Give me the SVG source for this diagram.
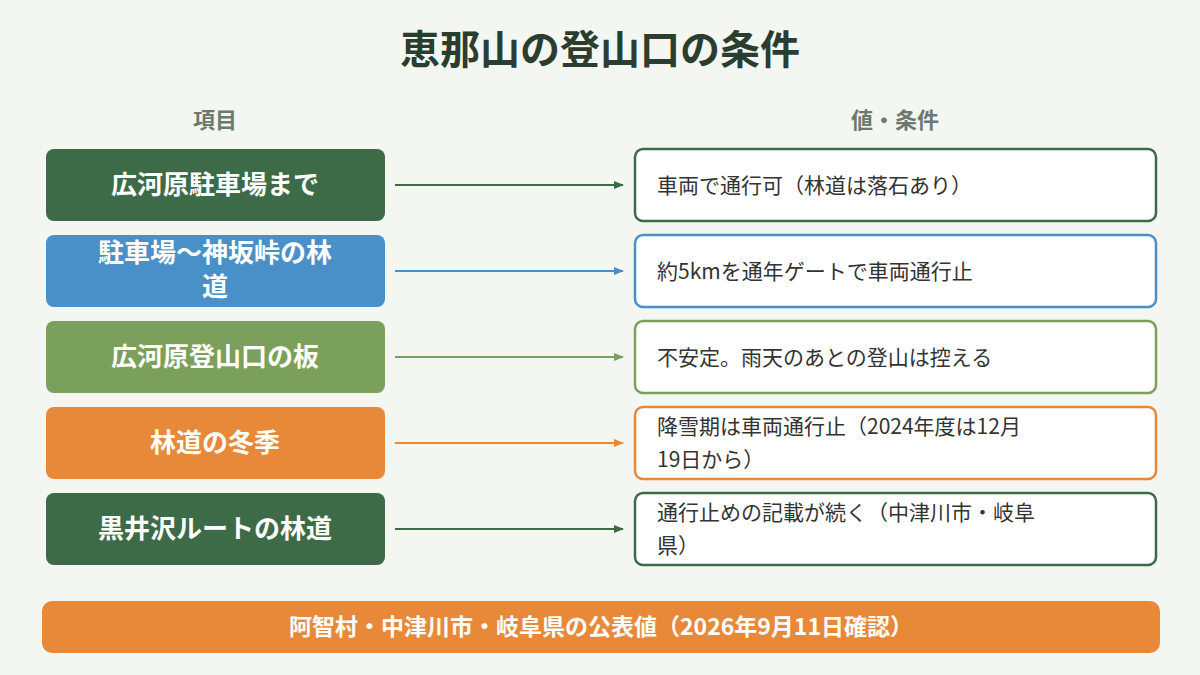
<svg xmlns="http://www.w3.org/2000/svg" width="1200" height="675" viewBox="0 0 1200 675">
<defs>
<style>
text{font-family:"Noto Sans CJK JP","Noto Sans",sans-serif}
.t{font-size:40px;font-weight:bold;fill:#2b3d2f}
.h{font-size:22px;font-weight:bold;fill:#6b7a6e}
.l{font-size:26px;font-weight:bold;fill:#fff}
.r{font-size:21px;fill:#333}
.rb{fill:#fff;stroke-width:2.5}
</style>
<marker id="a1" markerWidth="10" markerHeight="8" refX="9" refY="4" orient="auto" markerUnits="userSpaceOnUse"><path d="M0,0L10,4L0,8z" fill="#3d6b47"/></marker>
<marker id="a2" markerWidth="10" markerHeight="8" refX="9" refY="4" orient="auto" markerUnits="userSpaceOnUse"><path d="M0,0L10,4L0,8z" fill="#4a90c8"/></marker>
<marker id="a3" markerWidth="10" markerHeight="8" refX="9" refY="4" orient="auto" markerUnits="userSpaceOnUse"><path d="M0,0L10,4L0,8z" fill="#7ba05b"/></marker>
<marker id="a4" markerWidth="10" markerHeight="8" refX="9" refY="4" orient="auto" markerUnits="userSpaceOnUse"><path d="M0,0L10,4L0,8z" fill="#e8893a"/></marker>
</defs>
<rect width="1200" height="675" fill="#f4f6f1"/>
<text class="t" x="600" y="64" text-anchor="middle">恵那山の登山口の条件</text>
<text class="h" x="215" y="128" text-anchor="middle">項目</text>
<text class="h" x="895" y="128" text-anchor="middle">値・条件</text>
<g id="n1"><rect x="46" y="149" width="339" height="72" rx="8" fill="#3d6b47"/><text class="l" x="215" y="194" text-anchor="middle">広河原駐車場まで</text></g>
<g id="n2"><rect x="46" y="235" width="339" height="72" rx="8" fill="#4a90c8"/><text class="l" x="215" y="262" text-anchor="middle">駐車場～神坂峠の林</text><text class="l" x="215" y="296" text-anchor="middle">道</text></g>
<g id="n3"><rect x="46" y="321" width="339" height="72" rx="8" fill="#7ba05b"/><text class="l" x="215" y="366" text-anchor="middle">広河原登山口の板</text></g>
<g id="n4"><rect x="46" y="407" width="339" height="72" rx="8" fill="#e8893a"/><text class="l" x="215" y="452" text-anchor="middle">林道の冬季</text></g>
<g id="n5"><rect x="46" y="493" width="339" height="72" rx="8" fill="#3d6b47"/><text class="l" x="215" y="538" text-anchor="middle">黒井沢ルートの林道</text></g>
<g id="v1"><rect class="rb" x="635" y="149" width="521" height="72" rx="8" stroke="#3d6b47"/><text class="r" x="657" y="193">車両で通行可（林道は落石あり）</text></g>
<g id="v2"><rect class="rb" x="635" y="235" width="521" height="72" rx="8" stroke="#4a90c8"/><text class="r" x="657" y="279">約5kmを通年ゲートで車両通行止</text></g>
<g id="v3"><rect class="rb" x="635" y="321" width="521" height="72" rx="8" stroke="#7ba05b"/><text class="r" x="657" y="365">不安定。雨天のあとの登山は控える</text></g>
<g id="v4"><rect class="rb" x="635" y="407" width="521" height="72" rx="8" stroke="#e8893a"/><text class="r" x="657" y="434">降雪期は車両通行止（2024年度は12月</text><text class="r" x="657" y="467">19日から）</text></g>
<g id="v5"><rect class="rb" x="635" y="493" width="521" height="72" rx="8" stroke="#3d6b47"/><text class="r" x="657" y="520">通行止めの記載が続く（中津川市・岐阜</text><text class="r" x="657" y="553">県）</text></g>
<g id="connectors" stroke-width="2">
<line x1="395" y1="185" x2="623" y2="185" stroke="#3d6b47" marker-end="url(#a1)"/>
<line x1="395" y1="271" x2="623" y2="271" stroke="#4a90c8" marker-end="url(#a2)"/>
<line x1="395" y1="357" x2="623" y2="357" stroke="#7ba05b" marker-end="url(#a3)"/>
<line x1="395" y1="443" x2="623" y2="443" stroke="#e8893a" marker-end="url(#a4)"/>
<line x1="395" y1="529" x2="623" y2="529" stroke="#3d6b47" marker-end="url(#a1)"/>
</g>
<g id="footer"><rect x="42" y="601" width="1118" height="52" rx="10" fill="#e8893a"/><text x="601" y="635" text-anchor="middle" font-size="23" font-weight="bold" fill="#fff">阿智村・中津川市・岐阜県の公表値（2026年9月11日確認）</text></g>
</svg>
